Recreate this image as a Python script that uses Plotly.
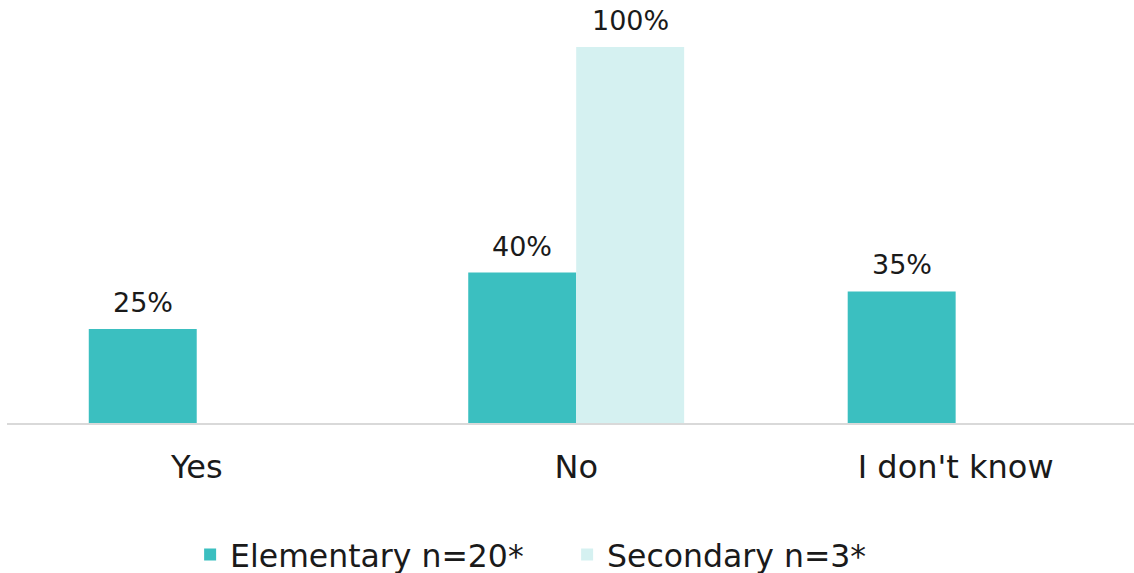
import plotly.graph_objects as go

categories = ["Yes", "No", "I don't know"]
series_names = ["Elementary n=20*", "Secondary n=3*"]
elementary = [0.25, 0.40, 0.35]
secondary = [0.0, 1.00, 0.0]
colors = ["#3BBFC0", "#D5F1F1"]

FONT = "DejaVu Sans"
TXT = "#1a1a1a"

fig = go.Figure()
for name, vals, col in zip(series_names, [elementary, secondary], colors):
    fig.add_trace(go.Bar(
        x=categories, y=vals, name=name,
        marker=dict(color=col, line=dict(width=0)),
        hoverinfo="skip",
    ))

# value labels above bars (skip zeros)
for idx, (vals, shift) in enumerate(zip([elementary, secondary], [-54, 54])):
    for c, v in zip(categories, vals):
        if v > 0:
            fig.add_annotation(
                x=c, y=v, xref="x", yref="y",
                text=f"{round(v*100)}%", showarrow=False,
                xshift=shift, yshift=9, yanchor="bottom",
                font=dict(family=FONT, size=27, color=TXT),
            )

fig.update_layout(
    width=1134, height=573,
    margin=dict(l=7, r=0, t=47, b=150, autoexpand=False),
    paper_bgcolor="white", plot_bgcolor="white",
    barmode="group", bargap=0.431, bargroupgap=0,
    font=dict(family=FONT, color=TXT),
    showlegend=True,
    legend=dict(
        orientation="h", x=0.497, xanchor="center",
        y=-0.35, yanchor="middle",
        font=dict(family=FONT, size=31.5, color=TXT),
        entrywidth=332, entrywidthmode="pixels",
        itemclick=False, itemdoubleclick=False,
    ),
    xaxis=dict(
        range=[-0.5, 2.47], automargin=False,
        showline=True, linecolor="#D9D9D9", linewidth=2,
        ticks="", showgrid=False, zeroline=False,
        tickfont=dict(family=FONT, size=32, color=TXT),
        ticklabelstandoff=15,
    ),
    yaxis=dict(
        range=[0, 1.0], visible=False, showgrid=False, zeroline=False,
        automargin=False,
    ),
)

fig.write_html(
    "out.html",
    config={"displayModeBar": False},
    post_script="document.body.style.margin='0';",
)
